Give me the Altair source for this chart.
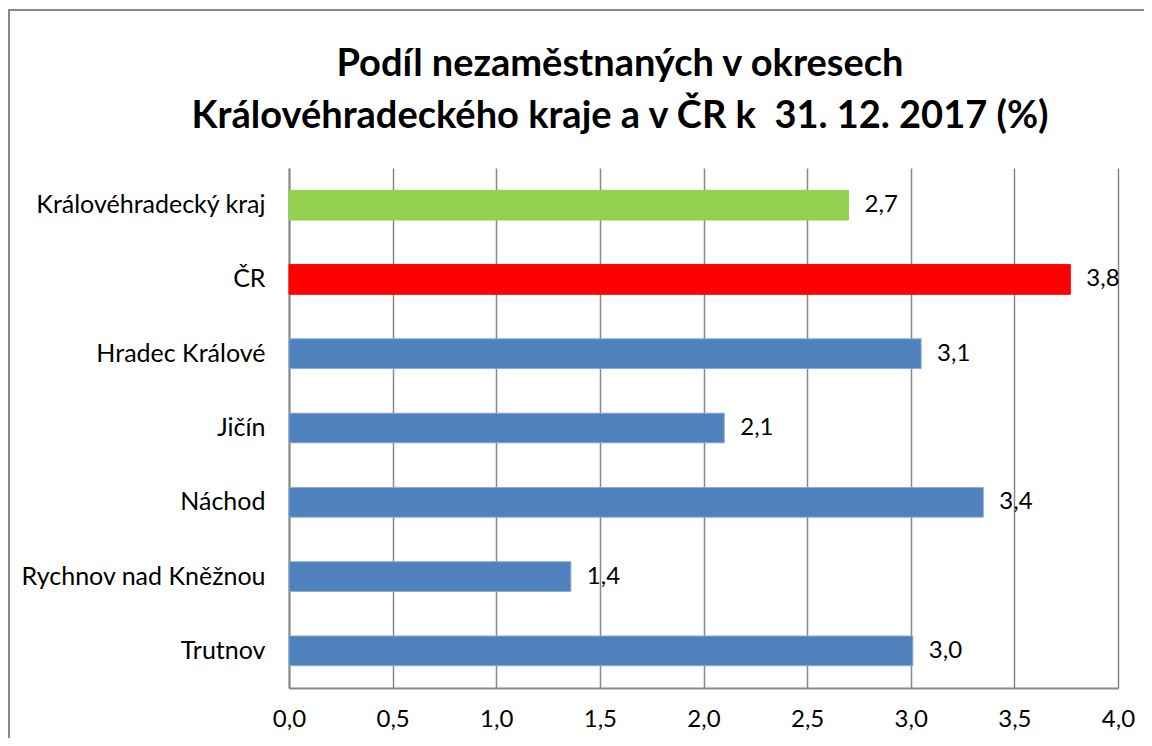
import altair as alt
import pandas as pd

categories = ["Královéhradecký kraj", "ČR", "Hradec Králové", "Jičín", "Náchod",
              "Rychnov nad Kněžnou", "Trutnov"]
values = [2.70, 3.77, 3.05, 2.10, 3.35, 1.36, 3.01]
value_labels = ["2,7", "3,8", "3,1", "2,1", "3,4", "1,4", "3,0"]
bar_colors = ["#92D050", "#FF0000", "#4F81BD", "#4F81BD", "#4F81BD", "#4F81BD", "#4F81BD"]
bar_strokes = ["#92D050", "#FF0000", "#8AAAD6", "#8AAAD6", "#8AAAD6", "#8AAAD6", "#8AAAD6"]
x_ticks = [0.0, 0.5, 1.0, 1.5, 2.0, 2.5, 3.0, 3.5, 4.0]
title_lines = ["Podíl nezaměstnaných v okresech",
               "Královéhradeckého kraje a v ČR k\u00a0 31. 12. 2017 (%)"]

df = pd.DataFrame({
    "cat": categories,
    "value": values,
    "label": value_labels,
    "color": bar_colors,
    "stroke": bar_strokes,
})

FONT = "Lato"
GRID = "#888888"

y_enc = alt.Y("cat:N", sort=categories,
              scale=alt.Scale(paddingInner=0.6, paddingOuter=0.3),
              axis=alt.Axis(title=None, ticks=False, labelPadding=24, labelLimit=400,
                            labelFont=FONT, labelFontSize=25, labelColor="black",
                            domainColor=GRID, domainWidth=2, grid=False))
x_enc = alt.X("value:Q", scale=alt.Scale(domain=[0, 4], nice=False, zero=True),
              axis=alt.Axis(title=None, values=x_ticks,
                            labelExpr="replace(format(datum.value, '.1f'), '.', ',')",
                            grid=True, gridColor=GRID, gridWidth=1.5, gridOpacity=1,
                            domainColor=GRID, domainWidth=2, ticks=False,
                            labelFont=FONT, labelFontSize=24, labelColor="black",
                            labelPadding=19, labelFlush=False, labelOverlap=False))

bars = alt.Chart(df).mark_bar(strokeWidth=1).encode(
    y=y_enc,
    x=x_enc,
    color=alt.Color("color:N", scale=None),
    stroke=alt.Stroke("stroke:N", scale=None),
)

text = alt.Chart(df).mark_text(align="left", baseline="middle", dx=16,
                               font=FONT, fontSize=24, color="black").encode(
    y=alt.Y("cat:N", sort=categories),
    x=alt.X("value:Q"),
    text="label:N",
)

frame = alt.Chart(pd.DataFrame({"a": [0]})).mark_rect(
    fillOpacity=0, stroke="#888888", strokeWidth=2).encode(
    x=alt.value(-280), x2=alt.value(900), y=alt.value(-158), y2=alt.value(700))

title1 = alt.Chart(pd.DataFrame({"t": [title_lines[0]]})).mark_text(
    font=FONT, fontSize=38, fontWeight="bold", color="black",
    align="center", baseline="alphabetic").encode(
    x=alt.value(331), y=alt.value(-92), text="t:N")
title2 = alt.Chart(pd.DataFrame({"t": [title_lines[1]]})).mark_text(
    font=FONT, fontSize=38, fontWeight="bold", color="black",
    align="center", baseline="alphabetic").encode(
    x=alt.value(331), y=alt.value(-40), text="t:N")

chart = alt.layer(frame, bars, text, title1, title2).properties(
    width=829, height=520,
    autosize=alt.AutoSizeParams(type="none"),
    padding={"left": 281, "top": 160, "right": 26, "bottom": 50},
).configure_view(strokeWidth=0)

chart.save("out.html", embed_options={"renderer": "svg", "actions": False})
